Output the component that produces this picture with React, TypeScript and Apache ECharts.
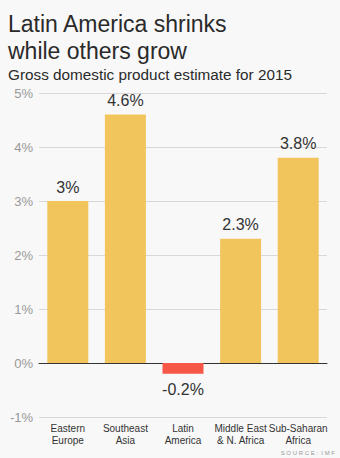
import React, { useEffect, useRef } from "react";
import * as echarts from "echarts";

const categories = ["Eastern\nEurope", "Southeast\nAsia", "Latin\nAmerica", "Middle East\n& N. Africa", "Sub-Saharan\nAfrica"];
const gdpGrowth = [3, 4.6, -0.2, 2.3, 3.8];
const yTicks = [-1, 0, 1, 2, 3, 4, 5];

const FONT = "'Liberation Sans', Arial, Helvetica, sans-serif";

export default function App() {
  const ref = useRef<HTMLDivElement>(null);
  useEffect(() => {
    if (!ref.current) return;
    const chart = echarts.init(ref.current, null, { renderer: "svg" });
    chart.setOption({
      animation: false,
      backgroundColor: "#f8f8f8",
      textStyle: { fontFamily: FONT },
      title: {
        text: "Latin America shrinks\nwhile others grow",
        subtext: "Gross domestic product estimate for 2015",
        left: 3,
        top: 5,
        itemGap: 3,
        textStyle: { fontFamily: FONT, fontSize: 23, fontWeight: "normal", color: "#2a2a2a", lineHeight: 27 },
        subtextStyle: { fontFamily: FONT, fontSize: 15.3, color: "#2a2a2a" },
      },
      graphic: [
        {
          type: "text",
          right: 5,
          top: 450,
          style: { text: "S O U R C E :  I M F", fill: "#999", font: `6px ${FONT}` },
        },
      ],
      grid: { left: 39, right: 13, top: 93, bottom: 41, containLabel: false, outerBoundsMode: "none" },
      xAxis: {
        type: "category",
        data: categories,
        axisLine: { show: true, onZero: true, lineStyle: { color: "#333", width: 1 } },
        axisTick: { show: false },
        axisLabel: {
          interval: 0,
          color: "#333",
          fontSize: 10,
          lineHeight: 12,
          margin: 5,
          fontFamily: FONT,
        },
      },
      yAxis: {
        type: "value",
        min: yTicks[0],
        max: yTicks[yTicks.length - 1],
        interval: 1,
        axisLine: { show: false },
        axisTick: { show: false },
        splitLine: { lineStyle: { color: "#d8d8d8", width: 1 } },
        axisLabel: {
          formatter: (v: number) => `${v}%`,
          color: "#999",
          fontSize: 13,
          margin: 6,
          fontFamily: FONT,
        },
      },
      series: [
        {
          type: "bar",
          barWidth: 41,
          data: gdpGrowth.map((v) => ({
            value: v,
            itemStyle: { color: v < 0 ? "#f65747" : "#f2c55c" },
            label: {
              show: true,
              position: v < 0 ? "bottom" : "top",
              distance: v < 0 ? 8 : 6,
              formatter: `${v}%`,
              fontSize: 16,
              color: "#333",
              fontFamily: FONT,
            },
          })),
        },
      ],
    });
    return () => chart.dispose();
  }, []);
  return <div ref={ref} style={{ position: "absolute", left: 0, top: 0, width: 340, height: 458 }} />;
}
